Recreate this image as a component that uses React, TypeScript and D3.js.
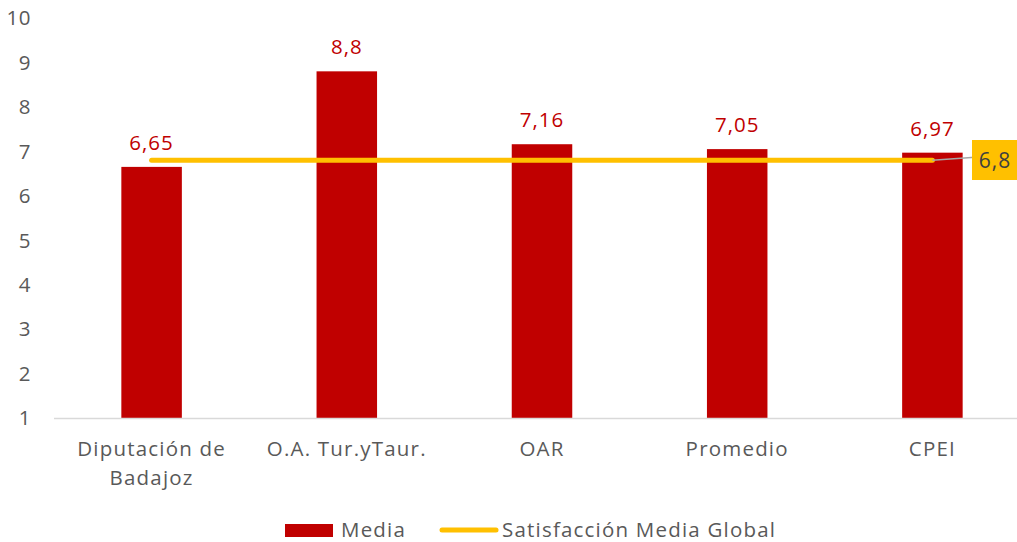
import React from 'react';
import { scaleBand, scaleLinear, line } from 'd3';

// chart data
const categories = ['Diputación de|Badajoz', 'O.A. Tur.yTaur.', 'OAR', 'Promedio', 'CPEI'];
const media = [6.65, 8.8, 7.16, 7.05, 6.97];
const mediaLabels = ['6,65', '8,8', '7,16', '7,05', '6,97'];
const globalValue = 6.8;
const globalLabel = '6,8';
const yTicks = [1, 2, 3, 4, 5, 6, 7, 8, 9, 10];

const W = 1017;
const H = 542;
const FONT = '"Open Sans", "Noto Sans", sans-serif';
const RED = '#C00000';
const GOLD = '#FFC000';
const GREY = '#595959';

export default function App() {
  const x = scaleBand<string>()
    .domain(categories)
    .range([54, 1030])
    .paddingInner(0.69)
    .paddingOuter(0.345);

  const y = scaleLinear().domain([1, 10]).range([418, 18]);

  const cx = (c: string) => (x(c) as number) + x.bandwidth() / 2;

  const globalLine = line<string>()
    .x(d => cx(d))
    .y(() => y(globalValue));

  const lastX = cx(categories[categories.length - 1]);

  return (
    <svg width={W} height={H} style={{ position: 'absolute', left: 0, top: 0 }} fontFamily={FONT}>
      <rect width={W} height={H} fill="#fff" />

      {/* y tick labels */}
      {yTicks.map(t => (
        <text key={t} x={31} y={y(t)} dy="0.36em" textAnchor="end" fontSize={20.5} fill={GREY} letterSpacing="0.5">
          {t}
        </text>
      ))}

      {/* bars */}
      {categories.map((c, i) => (
        <rect
          key={c}
          x={x(c)}
          y={y(media[i])}
          width={x.bandwidth()}
          height={y(1) - y(media[i])}
          fill={RED}
        />
      ))}

      {/* axis line */}
      <line x1={54} x2={W} y1={y(1) + 0.5} y2={y(1) + 0.5} stroke="#D9D9D9" strokeWidth={1.5} />

      {/* category labels */}
      {categories.map(c => (
        <text key={c} textAnchor="middle" fontSize={20.5} fill={GREY} letterSpacing="1.2">
          {c.split('|').map((part, j) => (
            <tspan key={j} x={cx(c)} y={456 + j * 29}>
              {part}
            </tspan>
          ))}
        </text>
      ))}

      {/* global average line */}
      <path
        d={globalLine(categories) as string}
        stroke={GOLD}
        strokeWidth={5}
        strokeLinecap="round"
        fill="none"
      />

      {/* value labels */}
      {categories.map((c, i) => (
        <text key={c} x={cx(c)} y={y(media[i]) - 17} textAnchor="middle" fontSize={20.5} fill={RED} letterSpacing="1">
          {mediaLabels[i]}
        </text>
      ))}

      {/* global data label with leader */}
      <polyline
        points={`${lastX},${y(globalValue)} ${975},${y(globalValue) - 3}`}
        stroke="#A6A6A6"
        strokeWidth={1.5}
        fill="none"
      />
      <rect x={972} y={140} width={45} height={40} fill={GOLD} />
      <text x={995} y={160} dy="0.36em" textAnchor="middle" fontSize={21} fill="#404040" letterSpacing="1">
        {globalLabel}
      </text>

      {/* legend */}
      <rect x={285} y={524} width={48} height={13} fill={RED} />
      <text x={341} y={530} dy="0.36em" fontSize={20.5} fill={GREY} letterSpacing="1.2">
        Media
      </text>
      <line x1={442} x2={496} y1={530} y2={530} stroke={GOLD} strokeWidth={5} strokeLinecap="round" />
      <text x={502} y={530} dy="0.36em" fontSize={20.5} fill={GREY} letterSpacing="1.2">
        Satisfacción Media Global
      </text>
    </svg>
  );
}
